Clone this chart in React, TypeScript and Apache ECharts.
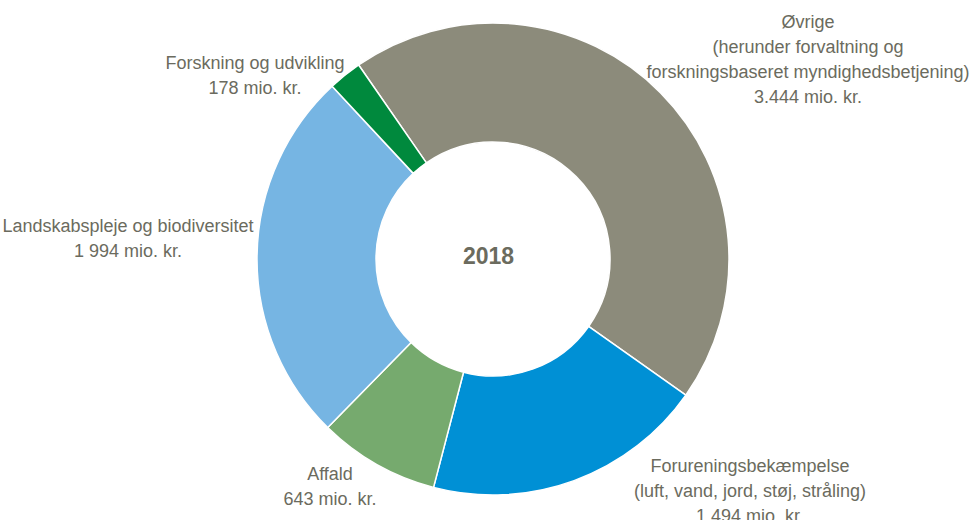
import React, { useEffect, useRef } from "react";
import * as echarts from "echarts";

const categories = [
  "Øvrige\n(herunder forvaltning og\nforskningsbaseret myndighedsbetjening)",
  "Forureningsbekæmpelse\n(luft, vand, jord, støj, stråling)",
  "Affald",
  "Landskabspleje og biodiversitet",
  "Forskning og udvikling",
];
const values = [3444, 1494, 643, 1994, 178];
const valueLabels = ["3.444", "1.494", "643", "1 994", "178"];
const colors = ["#8c8b7b", "#0090d5", "#76aa6e", "#76b5e3", "#00893d"];
const centerTitle = "2018";

// label anchor positions (center of text block)
const labelPos = [
  [808, 59],
  [750, 491],
  [330, 486],
  [128, 238],
  [255, 75],
];

const FONT = "'Liberation Sans Narrow', 'Arial Narrow', 'Liberation Sans', Arial, sans-serif";

export default function App() {
  const ref = useRef<HTMLDivElement>(null);
  useEffect(() => {
    document.body.style.margin = "0";
    const chart = echarts.init(ref.current!, null, { renderer: "svg" });
    chart.setOption({
      animation: false,
      backgroundColor: "#ffffff",
      graphic: [
        {
          type: "text",
          left: 493 - 30,
          top: 255 - 11,
          style: {
            text: centerTitle,
            font: `bold 23px ${FONT}`,
            fill: "#6b6b5e",
            width: 60,
            align: "center",
          },
        },
      ],
      series: [
        {
          type: "pie",
          center: [493, 259],
          radius: [117, 236],
          startAngle: 124.7,
          clockwise: true,
          itemStyle: { borderColor: "#ffffff", borderWidth: 1.5 },
          labelLine: { show: false },
          label: {
            show: true,
            color: "#6b6b5e",
            fontFamily: FONT,
            fontSize: 18,
            lineHeight: 25,
            align: "center",
            overflow: "none",
            width: 400,
            formatter: (p: any) => `${p.name}\n${valueLabels[p.dataIndex]} mio. kr.`,
          },
          labelLayout: (p: any) => ({
            x: labelPos[p.dataIndex][0],
            y: labelPos[p.dataIndex][1],
            align: "center",
            verticalAlign: "middle",
            width: 400,
          }),
          emphasis: { disabled: true },
          data: categories.map((c, i) => ({
            name: c,
            value: values[i],
            itemStyle: { color: colors[i] },
          })),
        },
      ],
    });
    return () => chart.dispose();
  }, []);
  return <div ref={ref} style={{ width: 976, height: 520 }} />;
}
